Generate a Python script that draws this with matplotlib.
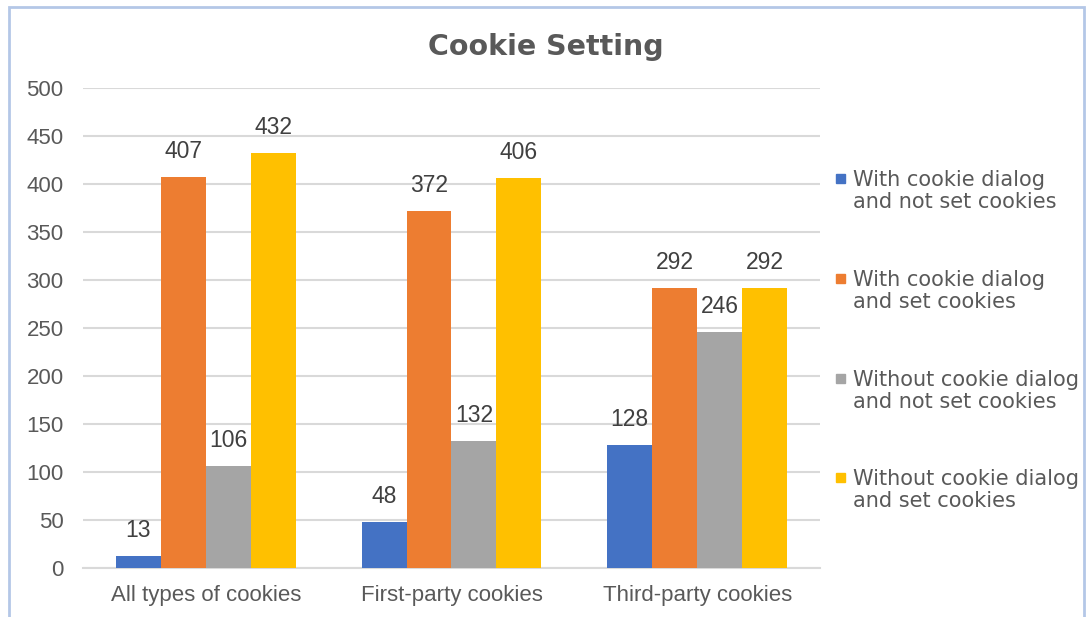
import matplotlib
matplotlib.use("Agg")
import matplotlib.pyplot as plt
import numpy as np
from matplotlib.patches import Rectangle

categories = ["All types of cookies", "First-party cookies", "Third-party cookies"]
series_names = [
    "With cookie dialog\nand not set cookies",
    "With cookie dialog\nand set cookies",
    "Without cookie dialog\nand not set cookies",
    "Without cookie dialog\nand set cookies",
]
with_dialog_not_set = [13, 48, 128]
with_dialog_set = [407, 372, 292]
without_dialog_not_set = [106, 132, 246]
without_dialog_set = [432, 406, 292]
y_ticks = [0, 50, 100, 150, 200, 250, 300, 350, 400, 450, 500]

series = [with_dialog_not_set, with_dialog_set, without_dialog_not_set, without_dialog_set]
colors = ["#4472C4", "#ED7D31", "#A5A5A5", "#FFC000"]
text_color = "#595959"

plt.rcParams["font.family"] = ["Liberation Sans", "DejaVu Sans"]

W, H = 1086, 617
fig = plt.figure(figsize=(W / 100, H / 100), dpi=100)


def fx(px):
    return px / W


def fy(py):
    return 1 - py / H


ax = fig.add_axes([fx(83), fy(568), 737 / W, 480 / H])

x = np.arange(len(categories))
width = 0.183
for i, (vals, col, name) in enumerate(zip(series, colors, series_names)):
    offs = (i - 1.5) * width
    bars = ax.bar(x + offs, vals, width, color=col, label=name, zorder=3)
    for b, v in zip(bars, vals):
        ax.annotate(str(v), (b.get_x() + b.get_width() / 2, v),
                    xytext=(0, 10), textcoords="offset points",
                    ha="center", va="bottom", fontsize=16.5, color="#404040")

ax.set_xlim(-0.5, 2.5)
ax.set_ylim(0, 500)
ax.set_yticks(y_ticks)
ax.set_xticks(x)
ax.set_xticklabels(categories)
ax.tick_params(axis="both", length=0, labelcolor=text_color)
ax.tick_params(axis="y", pad=14, labelsize=16)
ax.tick_params(axis="x", pad=12, labelsize=16)
ax.grid(axis="y", color="#D9D9D9", linewidth=1.5, zorder=0)
for s in ["top", "right", "left"]:
    ax.spines[s].set_visible(False)
ax.spines["bottom"].set_color("#D9D9D9")
ax.spines["bottom"].set_linewidth(1.5)

fig.text(fx(546), fy(55), "Cookie Setting", ha="center", va="baseline",
         fontsize=20.5, fontweight="bold", color=text_color,
         family="DejaVu Sans")

# Legend entries: square swatch beside the first line of each two-line label
legend_rows = [181, 281, 381, 480]
for name, col, yc in zip(series_names, colors, legend_rows):
    fig.patches.append(Rectangle((fx(836), fy(yc + 2)), 9 / W, 9 / H,
                                 transform=fig.transFigure, color=col))
    fig.text(fx(853), fy(yc - 11), name, ha="left", va="top",
             fontsize=15, color=text_color, family="DejaVu Sans",
             linespacing=1.13)

fig.patches.append(Rectangle((fx(9), -0.01), 1075 / W, fy(7) + 0.01,
                             transform=fig.transFigure, fill=False,
                             edgecolor="#B4C7E7", linewidth=2))

fig.savefig("out.png", dpi=100)
